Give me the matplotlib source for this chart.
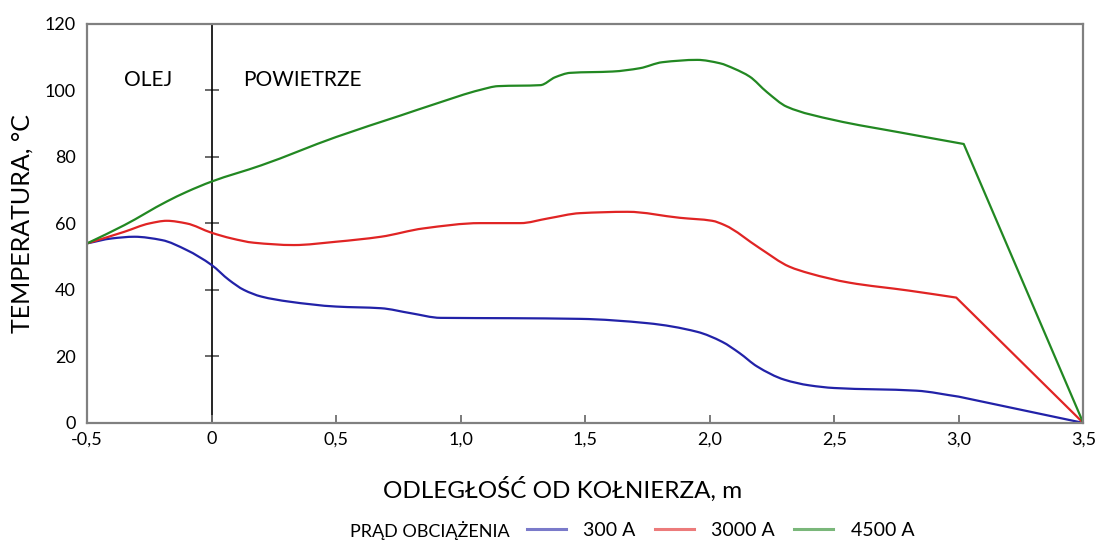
import numpy as np
import matplotlib.pyplot as plt
from matplotlib.path import Path
from matplotlib.patches import PathPatch

plt.rcParams['font.family'] = ['Lato', 'DejaVu Sans']

x_300 = [-0.5, -0.4, -0.31, -0.2, -0.1, 0.0, 0.07, 0.13, 0.2, 0.31, 0.5, 0.68, 0.8, 0.92,
         1.2, 1.48, 1.75, 1.95, 2.05, 2.12, 2.19, 2.3, 2.4, 2.5, 2.83, 3.0, 3.5]
y_300 = [54, 55.5, 56, 55, 52, 47.5, 43, 40, 38, 36.5, 35, 34.5, 33, 31.6,
         31.5, 31.3, 30, 27.4, 24.4, 21, 17, 13, 11.3, 10.5, 9.7, 7.9, 0]

x_3000 = [-0.5, -0.35, -0.25, -0.18, -0.1, 0.0, 0.08, 0.17, 0.33, 0.5, 0.68, 0.85, 1.08,
          1.24, 1.35, 1.48, 1.67, 1.88, 2.01, 2.06, 2.2, 2.32, 2.4, 2.56, 2.8, 2.99, 3.5]
y_3000 = [54, 57.5, 60, 60.8, 60, 57.2, 55.5, 54.2, 53.5, 54.5, 56, 58.5, 60.1,
          60.1, 61.5, 63.1, 63.5, 61.7, 60.8, 59.5, 52.6, 47, 45, 42.2, 39.8, 37.7, 0]

x_4500 = [-0.5, -0.35, -0.18, -0.1, 0.0, 0.2, 0.5, 0.76, 0.9, 1.08, 1.15, 1.32, 1.38, 1.44,
          1.61, 1.72, 1.81, 1.95, 2.04, 2.1, 2.16, 2.23, 2.31, 2.5, 2.77, 3.02, 3.5]
y_4500 = [54, 59.5, 66.6, 69.5, 72.6, 77.5, 86, 92.5, 96, 100.2, 101.3, 101.6, 104, 105.3,
          105.7, 106.7, 108.5, 109.2, 108.2, 106.5, 104.2, 99.5, 95.1, 91.1, 87.3, 83.9, 0]

series_labels = ['300 A', '3000 A', '4500 A']
series_colors = ['#2222a8', '#e02424', '#228822']

x_ticks = [-0.5, 0, 0.5, 1.0, 1.5, 2.0, 2.5, 3.0, 3.5]
x_ticklabels = ['-0,5', '0', '0,5', '1,0', '1,5', '2,0', '2,5', '3,0', '3,5']
y_ticks = [0, 20, 40, 60, 80, 100, 120]


def smooth_path(xs, ys):
    # smoothed line through the points (monotone tangents, no overshoot);
    # the last stretch down to 3.5 m is a straight line as in the original
    x = np.asarray(xs, float)
    y = np.asarray(ys, float)
    h = np.diff(x)
    d = np.diff(y) / h
    m = np.zeros_like(y)
    m[0] = d[0]
    for k in range(1, len(x) - 1):
        if d[k - 1] * d[k] > 0:
            w1 = 2 * h[k] + h[k - 1]
            w2 = h[k] + 2 * h[k - 1]
            m[k] = (w1 + w2) / (w1 / d[k - 1] + w2 / d[k])
    m[-2] = d[-2]  # corner at ~3.0 m
    verts = [(x[0], y[0])]
    codes = [Path.MOVETO]
    for k in range(len(x) - 2):
        verts += [(x[k] + h[k] / 3, y[k] + m[k] * h[k] / 3),
                  (x[k + 1] - h[k] / 3, y[k + 1] - m[k + 1] * h[k] / 3),
                  (x[k + 1], y[k + 1])]
        codes += [Path.CURVE4] * 3
    verts.append((x[-1], y[-1]))
    codes.append(Path.LINETO)
    return Path(verts, codes)


fig = plt.figure(figsize=(11.02, 5.45), dpi=100)
ax = fig.add_axes([0.079, 0.224, 0.904, 0.732])

for xs, ys, col in zip([x_300, x_3000, x_4500], [y_300, y_3000, y_4500], series_colors):
    ax.add_patch(PathPatch(smooth_path(xs, ys), fill=False, edgecolor=col, lw=1.6,
                           joinstyle='round', capstyle='round'))

ax.set_xlim(-0.5, 3.5)
ax.set_ylim(0, 120)
ax.set_xticks(x_ticks)
ax.set_xticklabels(x_ticklabels)
ax.set_yticks(y_ticks)
ax.tick_params(axis='x', direction='in', length=6, width=1.3, color='#707070',
               labelsize=13, pad=6)
ax.tick_params(axis='y', length=0, labelsize=13, pad=8)
for s in ax.spines.values():
    s.set_color('#808080')
    s.set_linewidth(1.6)

# oil / air boundary with its own tick marks
sec = ax.secondary_yaxis(0.125)
sec.set_yticks([20, 40, 60, 80, 100])
sec.set_yticklabels([])
sec.spines['left'].set_color('black')
sec.spines['left'].set_linewidth(1.2)
sec.tick_params(direction='inout', length=10, width=1.2, color='#505050')

ax.text(-0.255, 103, 'OLEJ', fontsize=15, ha='center', va='center')
ax.text(0.363, 103, 'POWIETRZE', fontsize=15, ha='center', va='center')

ax.set_xlabel('ODLEGŁOŚĆ OD KOŁNIERZA, m', fontsize=17.5)
ax.xaxis.set_label_coords(0.477, -0.135)
ax.set_ylabel('TEMPERATURA, °C', fontsize=18, labelpad=8)

fig.text(0.318, 0.027, 'PRĄD OBCIĄŻENIA', fontsize=13, ha='left', va='center')
leg_handles = [plt.Line2D([], [], color=c, lw=2.2, alpha=0.6) for c in series_colors]
fig.legend(leg_handles, series_labels, loc='center left', bbox_to_anchor=(0.462, 0.027),
           ncol=3, frameon=False, fontsize=14, handlelength=2.0, columnspacing=1.0,
           handletextpad=0.9)

plt.savefig('out.png', dpi=100)
